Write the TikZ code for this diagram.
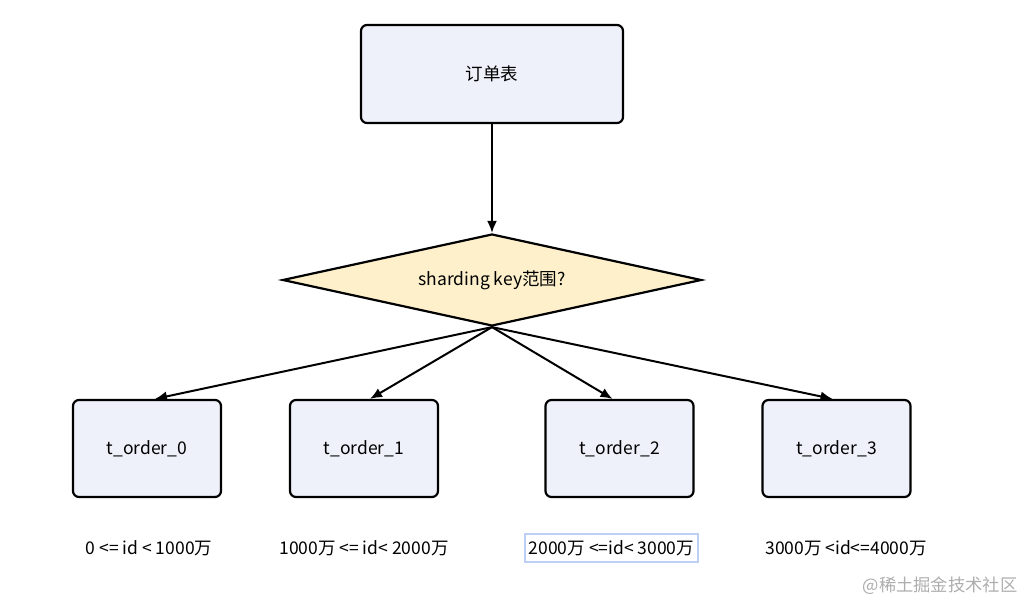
\documentclass[tikz,border=0pt]{standalone}
\usepackage{fontspec}
\setmainfont{Noto Sans CJK SC}
\usetikzlibrary{shapes.geometric,arrows.meta}

\definecolor{boxfill}{HTML}{EEF1F9}
\definecolor{decfill}{HTML}{FDF0CB}
\definecolor{selblue}{HTML}{BCD0F5}

\begin{document}
\begin{tikzpicture}[x=1pt,y=-1pt]

\tikzset{table/.style = {shape=rectangle,draw,line width=2.2pt,rounded corners=6pt,fill=boxfill,font=\fontsize{17.5}{20}\selectfont}}
\tikzset{decision/.style = {shape=diamond,draw,line width=2.2pt,fill=decfill,aspect=4.55,inner sep=0pt,font=\fontsize{17.5}{20}\selectfont}}
\tikzset{edge/.style = {-{Latex[length=12pt,width=10pt]},line width=2pt}}
\tikzset{rangelabel/.style = {font=\fontsize{17.5}{20}\selectfont}}

\useasboundingbox (0,0) rectangle (1027,604);

\node[table,minimum width=262,minimum height=98] (orders) at (492,74) {订单表};
\node[decision,minimum width=419,minimum height=92] (key) at (492,280) {sharding key范围?};

\node[table,minimum width=148,minimum height=97] (t0) at (147,448.5) {t\_order\_0};
\node[table,minimum width=148,minimum height=97] (t1) at (364,448.5) {t\_order\_1};
\node[table,minimum width=148,minimum height=97] (t2) at (619.5,448.5) {t\_order\_2};
\node[table,minimum width=148,minimum height=97] (t3) at (836.5,448.5) {t\_order\_3};

\node[rangelabel] (r0) at (149,548) {0 <= id < 1000万};
\node[rangelabel] (r1) at (364,548) {1000万 <= id< 2000万};
\node[rangelabel,draw=selblue,line width=1.5pt,inner xsep=4pt,minimum height=28] (r2) at (611.5,548) {2000万 <=id< 3000万};
\node[rangelabel] (r3) at (846,548) {3000万 <id<=4000万};

\node[text=black!32,font=\fontsize{17.3}{20}\selectfont,anchor=east] (mark) at (1021,586) {@稀土掘金技术社区};

\draw[edge] (orders) -- (key);
\draw[edge] (key.south) -- ([xshift=8]t0.north);
\draw[edge] (key.south) -- ([xshift=6]t1.north);
\draw[edge] (key.south) -- ([xshift=-7]t2.north);
\draw[edge] (key.south) -- ([xshift=-4]t3.north);

\end{tikzpicture}
\end{document}
